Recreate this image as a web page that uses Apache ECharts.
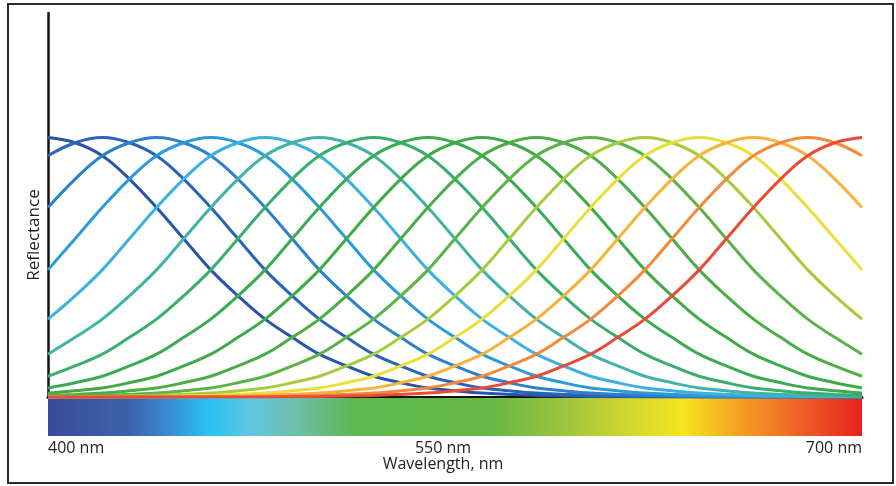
<!DOCTYPE html>
<html>
<head>
<meta charset="utf-8">
<script src="https://cdn.jsdelivr.net/npm/echarts@6/dist/echarts.min.js"></script>
<style>
  html, body { margin: 0; padding: 0; background: #fff; }
  #chart { width: 896px; height: 486px; }
</style>
</head>
<body>
<div id="chart"></div>
<script>
// wavelengths where every curve was read (nm), every 10 nm
const wavelengths = [400, 410, 420, 430, 440, 450, 460, 470, 480, 490, 500, 510, 520, 530, 540, 550,
  560, 570, 580, 590, 600, 610, 620, 630, 640, 650, 660, 670, 680, 690, 700];
const peaks = [400, 420, 440, 460, 480, 500, 520, 540, 560, 580, 600, 620, 640, 660, 680, 700];

// reflectance (peak = 1)
const r400 = [1, .98, .93, .84, .73, .61, .49, .39, .30, .23, .165, .12, .08, .055, .035, .024, .015, .01, .006, .004, .002, .001, 0, 0, 0, 0, 0, 0, 0, 0, 0];
const r420 = [.93, .98, 1, .98, .93, .84, .73, .61, .49, .39, .30, .23, .165, .12, .08, .055, .035, .024, .015, .01, .006, .004, .002, .001, 0, 0, 0, 0, 0, 0, 0];
const r440 = [.73, .84, .93, .98, 1, .98, .93, .84, .73, .61, .49, .39, .30, .23, .165, .12, .08, .055, .035, .024, .015, .01, .006, .004, .002, .001, 0, 0, 0, 0, 0];
const r460 = [.49, .61, .73, .84, .93, .98, 1, .98, .93, .84, .73, .61, .49, .39, .30, .23, .165, .12, .08, .055, .035, .024, .015, .01, .006, .004, .002, .001, 0, 0, 0];
const r480 = [.30, .39, .49, .61, .73, .84, .93, .98, 1, .98, .93, .84, .73, .61, .49, .39, .30, .23, .165, .12, .08, .055, .035, .024, .015, .01, .006, .004, .002, .001, 0];
const r500 = [.165, .23, .30, .39, .49, .61, .73, .84, .93, .98, 1, .98, .93, .84, .73, .61, .49, .39, .30, .23, .165, .12, .08, .055, .035, .024, .015, .01, .006, .004, .002];
const r520 = [.08, .12, .165, .23, .30, .39, .49, .61, .73, .84, .93, .98, 1, .98, .93, .84, .73, .61, .49, .39, .30, .23, .165, .12, .08, .055, .035, .024, .015, .01, .006];
const r540 = [.035, .055, .08, .12, .165, .23, .30, .39, .49, .61, .73, .84, .93, .98, 1, .98, .93, .84, .73, .61, .49, .39, .30, .23, .165, .12, .08, .055, .035, .024, .015];
const r560 = [.015, .024, .035, .055, .08, .12, .165, .23, .30, .39, .49, .61, .73, .84, .93, .98, 1, .98, .93, .84, .73, .61, .49, .39, .30, .23, .165, .12, .08, .055, .035];
const r580 = [.006, .01, .015, .024, .035, .055, .08, .12, .165, .23, .30, .39, .49, .61, .73, .84, .93, .98, 1, .98, .93, .84, .73, .61, .49, .39, .30, .23, .165, .12, .08];
const r600 = [.002, .004, .006, .01, .015, .024, .035, .055, .08, .12, .165, .23, .30, .39, .49, .61, .73, .84, .93, .98, 1, .98, .93, .84, .73, .61, .49, .39, .30, .23, .165];
const r620 = [0, .001, .002, .004, .006, .01, .015, .024, .035, .055, .08, .12, .165, .23, .30, .39, .49, .61, .73, .84, .93, .98, 1, .98, .93, .84, .73, .61, .49, .39, .30];
const r640 = [0, 0, 0, .001, .002, .004, .006, .01, .015, .024, .035, .055, .08, .12, .165, .23, .30, .39, .49, .61, .73, .84, .93, .98, 1, .98, .93, .84, .73, .61, .49];
const r660 = [0, 0, 0, 0, 0, .001, .002, .004, .006, .01, .015, .024, .035, .055, .08, .12, .165, .23, .30, .39, .49, .61, .73, .84, .93, .98, 1, .98, .93, .84, .73];
const r680 = [0, 0, 0, 0, 0, 0, 0, .001, .002, .004, .006, .01, .015, .024, .035, .055, .08, .12, .165, .23, .30, .39, .49, .61, .73, .84, .93, .98, 1, .98, .93];
const r700 = [0, 0, 0, 0, 0, 0, 0, 0, 0, .001, .002, .004, .006, .01, .015, .024, .035, .055, .08, .12, .165, .23, .30, .39, .49, .61, .73, .84, .93, .98, 1];
const curves = [r400, r420, r440, r460, r480, r500, r520, r540, r560, r580, r600, r620, r640, r660, r680, r700];

const curveColors = [
  "#2756a6", "#2a64b6", "#2c80cc", "#2a9bd8", "#3cb0de", "#41b3a6", "#3aae6e", "#3aab52",
  "#3fab47", "#4aad46", "#5ab347", "#a6cb3d", "#eadf3a", "#f7b23a", "#f28a3a", "#ea4a36"
];

// spectrum strip colour stops (nm, colour)
const stripNm = [400, 430, 445, 460, 475, 492, 513, 563, 593, 614, 634, 654, 673, 700];
const stripColors = ["#3a4a9d", "#3b62ad", "#3a8ed4", "#29c4f2", "#62c6e0", "#6dbfa6", "#5db84e",
  "#66b744", "#a3c63c", "#d2d630", "#f5e61c", "#f4a321", "#ef6c26", "#e7221f"];

const tickValues = [400, 550, 700];

const chart = echarts.init(document.getElementById("chart"));

const series = curves.map(function (vals, k) {
  return {
    name: peaks[k] + " nm",
    type: "line",
    xAxisIndex: 0,
    yAxisIndex: 0,
    smooth: 0.4,
    showSymbol: false,
    silent: true,
    data: vals.map(function (v, i) { return [wavelengths[i], v]; }),
    lineStyle: { color: curveColors[k], width: 3 }
  };
});

series.push({
  type: "line",
  xAxisIndex: 1,
  yAxisIndex: 1,
  showSymbol: false,
  silent: true,
  data: [[400, 1], [700, 1]],
  lineStyle: { width: 0 },
  areaStyle: {
    opacity: 1,
    color: new echarts.graphic.LinearGradient(0, 0, 1, 0,
      stripNm.map(function (nm, i) {
        return { offset: (nm - 400) / 300, color: stripColors[i] };
      }))
  }
});

const options = {
  animation: false,
  backgroundColor: "#fff",
  textStyle: { fontFamily: "Open Sans" },
  grid: [
    { left: 48, right: 34, top: 13, height: 384 },
    { left: 48, right: 34, top: 398, height: 38 }
  ],
  xAxis: [
    {
      gridIndex: 0,
      type: "value",
      min: 400,
      max: 700,
      axisLine: { show: true, lineStyle: { color: "#111", width: 3 } },
      axisTick: { show: false },
      axisLabel: { show: false },
      splitLine: { show: false }
    },
    {
      gridIndex: 1,
      type: "value",
      min: 400,
      max: 700,
      axisLine: { show: false },
      axisTick: { show: false },
      splitLine: { show: false },
      axisLabel: {
        customValues: tickValues,
        alignMinLabel: "left",
        alignMaxLabel: "right",
        margin: 4,
        color: "#222",
        fontSize: 16,
        formatter: function (v) {
          return v === 550 ? "{c|" + v + " nm}" : v + " nm";
        },
        rich: { c: { fontSize: 16, color: "#222", padding: [0, 24, 0, 0] } }
      },
      name: "Wavelength, nm",
      nameLocation: "middle",
      nameGap: 20,
      nameTextStyle: { color: "#222", fontSize: 16, padding: [0, 24, 0, 0] }
    }
  ],
  yAxis: [
    {
      gridIndex: 0,
      type: "value",
      min: 0,
      max: 1.48,
      axisLine: { show: true, lineStyle: { color: "#111", width: 2.5 } },
      axisTick: { show: false },
      axisLabel: { show: false },
      splitLine: { show: false }
    },
    {
      gridIndex: 1,
      type: "value",
      min: 0,
      max: 1,
      show: false
    }
  ],
  graphic: [
    {
      type: "rect",
      silent: true,
      shape: { x: 8, y: 4, width: 885, height: 479 },
      style: { fill: "none", stroke: "#2a2a2a", lineWidth: 2 }
    },
    {
      type: "text",
      silent: true,
      x: 34,
      y: 235,
      rotation: Math.PI / 2,
      style: {
        text: "Reflectance",
        fill: "#222",
        font: "17px 'Open Sans'",
        align: "center",
        verticalAlign: "middle"
      }
    }
  ],
  series: series
};

chart.setOption(options);
</script>
</body>
</html>
